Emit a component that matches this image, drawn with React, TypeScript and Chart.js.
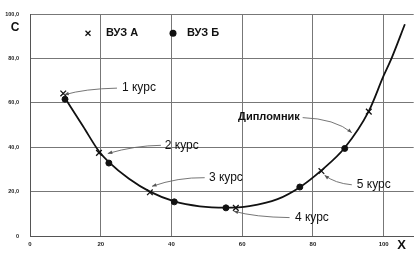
import { useEffect, useRef } from "react";
import { Chart, registerables } from "chart.js";

Chart.register(...registerables);

// ВУЗ А (crosses)
const uniAX = [9.4, 19.5, 33.9, 58.2, 82.4, 95.8];
const uniAY = [64.3, 37.5, 19.7, 12.7, 29.3, 56.1];
// ВУЗ Б (dots)
const uniBX = [9.9, 22.3, 40.8, 55.4, 76.3, 89.0];
const uniBY = [61.7, 32.9, 15.4, 12.7, 22.1, 39.5];
// trend curve
const curveX = [9.9, 15, 19.5, 22.3, 28, 33.9, 40.8, 48, 55.4, 62, 70, 76.3, 82.4, 89, 95.8, 100, 102.2, 106];
const curveY = [62.2, 49.5, 38.2, 33.3, 25.8, 20, 15.6, 13.4, 12.8, 13.5, 16.6, 22, 29.6, 39.8, 56.3, 72.3, 80, 95.5];

const seriesNames = ["ВУЗ А", "ВУЗ Б"];
const xTickValues = [0, 20, 40, 60, 80, 100];
const yTickValues = [0, 20, 40, 60, 80, 100];
const axisTitleY = "C";
const axisTitleX = "X";

// annotations: label, text anchor, arrow start, control, end (data units)
const noteLabels = ["1 курс", "2 курс", "3 курс", "4 курс", "5 курс", "Дипломник"];
const noteText = [[26.0, 66.7], [38.1, 40.9], [50.6, 26.3], [74.9, 8.1], [92.4, 23.3], [76.3, 53.5]];
const noteStart = [[24.6, 66.7], [37.0, 40.9], [49.4, 26.3], [73.4, 8.3], [91.0, 23.1], [77.1, 53.4]];
const noteCtrl = [[15.5, 66.4], [29.7, 40.8], [41.8, 26.5], [63.6, 8.5], [86.2, 23.8], [86.2, 52.9]];
const noteEnd = [[9.7, 63.7], [22.0, 37.2], [34.5, 22.4], [57.6, 11.2], [83.3, 27.4], [91.0, 46.6]];

const FONT = "'Liberation Sans', Arial, sans-serif";

const fmtY = (v: number) => (v === 0 ? "0" : v.toFixed(1).replace(".", ","));

const decorPlugin = {
  id: "decor",
  afterDatasetsDraw(chart: any) {
    const ctx = chart.ctx as CanvasRenderingContext2D;
    const xs = chart.scales.x;
    const ys = chart.scales.y;
    const ca = chart.chartArea;
    ctx.save();
    // axis titles
    ctx.fillStyle = "#111";
    ctx.textAlign = "center";
    ctx.textBaseline = "middle";
    ctx.font = `bold 12px ${FONT}`;
    ctx.fillText(axisTitleY, ca.left - 15, ca.top + 13);
    ctx.font = `bold 13px ${FONT}`;
    ctx.fillText(axisTitleX, ca.right - 12, ca.bottom + 9);

    // legend
    const ly = ca.top + 19;
    ctx.strokeStyle = "#111";
    ctx.lineWidth = 1.3;
    const cx = ca.left + 58;
    ctx.beginPath();
    ctx.moveTo(cx - 2.5, ly - 2.5);
    ctx.lineTo(cx + 2.5, ly + 2.5);
    ctx.moveTo(cx + 2.5, ly - 2.5);
    ctx.lineTo(cx - 2.5, ly + 2.5);
    ctx.stroke();
    ctx.font = `bold 11px ${FONT}`;
    ctx.textAlign = "left";
    ctx.fillText(seriesNames[0], ca.left + 76, ly);
    ctx.beginPath();
    ctx.arc(ca.left + 143, ly, 3.5, 0, Math.PI * 2);
    ctx.fill();
    ctx.fillText(seriesNames[1], ca.left + 157, ly);

    // annotations
    noteLabels.forEach((lab, i) => {
      const sx = xs.getPixelForValue(noteStart[i][0]);
      const sy = ys.getPixelForValue(noteStart[i][1]);
      const qx = xs.getPixelForValue(noteCtrl[i][0]);
      const qy = ys.getPixelForValue(noteCtrl[i][1]);
      const ex = xs.getPixelForValue(noteEnd[i][0]);
      const ey = ys.getPixelForValue(noteEnd[i][1]);
      ctx.strokeStyle = "#666";
      ctx.fillStyle = "#555";
      ctx.lineWidth = 0.9;
      ctx.beginPath();
      ctx.moveTo(sx, sy);
      ctx.quadraticCurveTo(qx, qy, ex, ey);
      ctx.stroke();
      const ang = Math.atan2(ey - qy, ex - qx);
      const L = 4.5, W = 1.8;
      ctx.beginPath();
      ctx.moveTo(ex, ey);
      ctx.lineTo(ex - L * Math.cos(ang) - W * Math.sin(ang), ey - L * Math.sin(ang) + W * Math.cos(ang));
      ctx.lineTo(ex - L * Math.cos(ang) + W * Math.sin(ang), ey - L * Math.sin(ang) - W * Math.cos(ang));
      ctx.closePath();
      ctx.fill();
      const tx = xs.getPixelForValue(noteText[i][0]);
      const ty = ys.getPixelForValue(noteText[i][1]);
      ctx.fillStyle = "#111";
      const isDiploma = i === noteLabels.length - 1;
      ctx.font = isDiploma ? `bold 11px ${FONT}` : `12px ${FONT}`;
      ctx.textAlign = isDiploma ? "right" : "left";
      ctx.textBaseline = "middle";
      ctx.fillText(lab, tx, ty);
    });
    ctx.restore();
  },
};

export default function App() {
  const ref = useRef<HTMLCanvasElement>(null);
  useEffect(() => {
    if (!ref.current) return;
    const chart = new Chart(ref.current, {
      type: "scatter",
      data: {
        datasets: [
          {
            label: "curve",
            data: curveX.map((x, i) => ({ x, y: curveY[i] })),
            showLine: true,
            borderColor: "#111",
            borderWidth: 1.8,
            pointRadius: 0,
            cubicInterpolationMode: "monotone",
            fill: false,
          },
          {
            label: seriesNames[0],
            data: uniAX.map((x, i) => ({ x, y: uniAY[i] })),
            pointStyle: "crossRot",
            pointRadius: 4,
            borderColor: "#111",
            borderWidth: 1.3,
          },
          {
            label: seriesNames[1],
            data: uniBX.map((x, i) => ({ x, y: uniBY[i] })),
            pointStyle: "circle",
            pointRadius: 3,
            backgroundColor: "#111",
            borderColor: "#111",
            borderWidth: 1,
          },
        ] as any,
      },
      options: {
        animation: false,
        responsive: false,
        maintainAspectRatio: false,
        layout: { padding: { top: 13, right: 5, left: 0, bottom: 0 } },
        plugins: { legend: { display: false }, tooltip: { enabled: false } },
        scales: {
          x: {
            type: "linear",
            min: 0,
            max: 108.5,
            afterFit: (s: any) => {
              s.height = 20;
            },
            afterBuildTicks: (s: any) => {
              s.ticks = xTickValues.map((v) => ({ value: v }));
            },
            ticks: {
              font: { family: FONT, size: 6, weight: "bold" },
              color: "#222",
              padding: 5,
              maxRotation: 0,
            },
            grid: { color: "#777", lineWidth: 1, drawTicks: false },
            border: { color: "#555", width: 1 },
          },
          y: {
            type: "linear",
            min: 0,
            max: 100,
            afterFit: (s: any) => {
              s.width = 30;
            },
            afterBuildTicks: (s: any) => {
              s.ticks = yTickValues.map((v) => ({ value: v }));
            },
            ticks: {
              font: { family: FONT, size: 5.5, weight: "bold" },
              color: "#222",
              padding: 11,
              callback: (v: any) => fmtY(Number(v)),
            },
            grid: { color: "#777", lineWidth: 1, drawTicks: false },
            border: { color: "#555", width: 1 },
          },
        },
      } as any,
      plugins: [decorPlugin],
    });
    return () => chart.destroy();
  }, []);
  return (
    <div style={{ position: "fixed", left: 0, top: 0, width: 419, height: 256, background: "#fff" }}>
      <canvas ref={ref} width={419} height={256} />
    </div>
  );
}
